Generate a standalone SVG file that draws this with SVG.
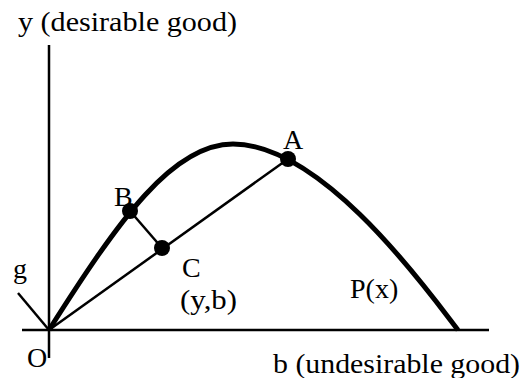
<svg xmlns="http://www.w3.org/2000/svg" width="523" height="378" viewBox="0 0 523 378">
<style>
text{font-family:"Liberation Serif","Times New Roman",serif;font-size:28px;fill:#000}
.ax{stroke:#000;stroke-width:2.5;fill:none}
.thin{stroke:#000;stroke-width:2.5;fill:none}
.curve{stroke:#000;stroke-width:5;fill:none}
.dot{fill:#000}
</style>
<rect width="523" height="378" fill="#fff"/>
<g id="axes">
<line class="ax" x1="49" y1="45" x2="49" y2="358"/>
<line class="ax" x1="22" y1="330" x2="489" y2="330"/>
<line class="ax" x1="18" y1="293" x2="49" y2="330"/>
</g>
<g id="connectors">
<path id="P" class="curve" d="M49,330 C120,218 173,144 233,144 C323,144 428,291 458,330"/>
<line class="thin" x1="49" y1="330" x2="288" y2="159"/>
<line class="thin" x1="130" y1="211" x2="162" y2="248"/>
</g>
<g id="A"><circle class="dot" cx="288" cy="159" r="8"/><text x="283" y="149">A</text></g>
<g id="B"><circle class="dot" cx="130" cy="211" r="8"/><text x="114" y="206">B</text></g>
<g id="C"><circle class="dot" cx="162" cy="248" r="8"/><text x="182" y="277">C</text><text x="180" y="309" textLength="57" lengthAdjust="spacingAndGlyphs">(y,b)</text></g>
<g id="labels">
<text x="18" y="31" textLength="219" lengthAdjust="spacingAndGlyphs">y (desirable good)</text>
<text x="273" y="373" textLength="247" lengthAdjust="spacingAndGlyphs">b (undesirable good)</text>
<text x="27" y="367">O</text>
<text x="13" y="278">g</text>
<text x="350" y="298">P(x)</text>
</g>
</svg>
